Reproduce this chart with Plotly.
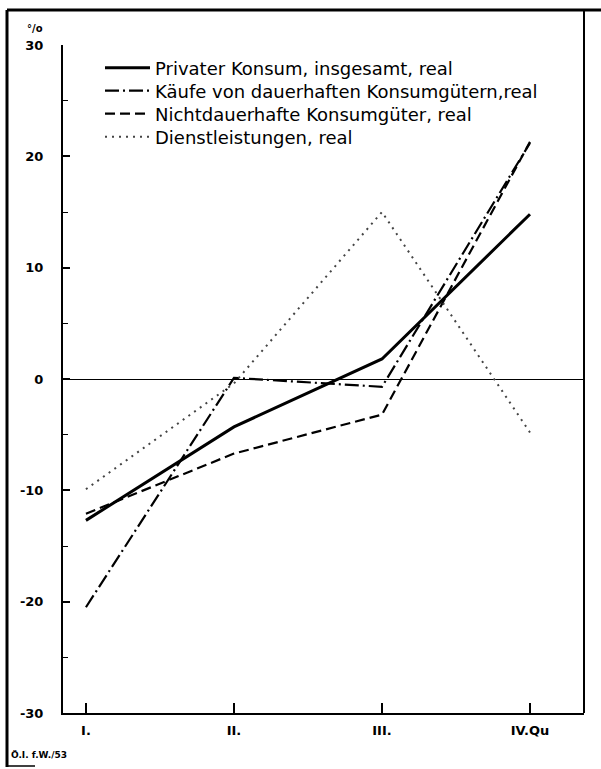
import plotly.graph_objects as go

quarters = ["I.", "II.", "III.", "IV.Qu"]
privater_konsum = [-12.7, -4.3, 1.8, 14.8]
dauerhafte = [-20.5, 0.1, -0.7, 21.2]
nichtdauerhafte = [-12.1, -6.7, -3.2, 21.3]
dienstleistungen = [-9.9, -0.4, 15.0, -4.8]

names = [
    "Privater Konsum, insgesamt, real",
    "Käufe von dauerhaften Konsumgütern,real",
    "Nichtdauerhafte Konsumgüter, real",
    "Dienstleistungen, real",
]
ytick_vals = [30, 20, 10, 0, -10, -20, -30]
ytick_text = ["30", "20", "10", "0", "-10", "-20", "-30"]

FONT = "DejaVu Sans"

W, H = 601, 769
L, R, T, B = 63, 584, 45, 713
pw, ph = R - L, B - T


def px(x):
    return (x - L) / pw


def py(y):
    return (B - y) / ph


series = [privater_konsum, dauerhafte, nichtdauerhafte, dienstleistungen]
styles = [
    dict(color="black", width=3),
    dict(color="black", width=2.2, dash="14px,4px,2px,4px"),
    dict(color="black", width=2.2, dash="10px,5px"),
    dict(color="#444", width=2, dash="2px,5px"),
]
legend_rows = [68, 91, 114, 137]

fig = go.Figure()
legends = {}
for i, (vals, st, nm) in enumerate(zip(series, styles, names)):
    lg = "legend" if i == 0 else f"legend{i + 1}"
    fig.add_trace(go.Scatter(x=quarters, y=vals, mode="lines", name=nm,
                             line=st, legend=lg))
    legends[lg] = dict(x=px(100), y=py(legend_rows[i]), xanchor="left", yanchor="middle",
                       bgcolor="rgba(0,0,0,0)", borderwidth=0,
                       font=dict(family=FONT, size=18, color="black"),
                       itemwidth=45)

fig.update_layout(
    width=W, height=H,
    margin=dict(l=L, r=W - R, t=T, b=H - B, pad=0),
    paper_bgcolor="white", plot_bgcolor="white",
    font=dict(family=FONT, color="black"),
    showlegend=True,
    xaxis=dict(type="category", categoryorder="array", categoryarray=quarters,
               range=[-0.155, 3.365], showgrid=False, zeroline=False,
               showline=True, linecolor="black", linewidth=2,
               ticks="inside", ticklen=10, tickwidth=2, tickcolor="black",
               tickfont=dict(family=FONT, size=13, color="black", weight="bold"),
               ticklabelstandoff=4),
    yaxis=dict(range=[-30, 30], showgrid=False,
               zeroline=True, zerolinecolor="black", zerolinewidth=1,
               showline=True, linecolor="black", linewidth=2,
               tickmode="array", tickvals=ytick_vals, ticktext=ytick_text,
               ticks="inside", ticklen=7, tickwidth=1.5, tickcolor="black",
               minor=dict(tickmode="linear", dtick=5, ticks="inside", ticklen=5,
                          tickwidth=1, tickcolor="black"),
               tickfont=dict(family=FONT, size=13, color="black", weight="bold"),
               ticklabelstandoff=15),
    shapes=[
        dict(type="line", xref="paper", yref="paper", x0=1, x1=1,
             y0=0, y1=py(10), line=dict(color="black", width=2)),
        dict(type="line", xref="paper", yref="paper", x0=px(7), x1=px(601),
             y0=py(10), y1=py(10), line=dict(color="black", width=3)),
        dict(type="line", xref="paper", yref="paper", x0=px(7), x1=px(7),
             y0=py(10), y1=py(767), line=dict(color="black", width=3)),
        dict(type="line", xref="paper", yref="paper", x0=px(7), x1=px(35),
             y0=py(766), y1=py(766), line=dict(color="black", width=1.5)),
    ],
    annotations=[
        dict(text="°/o", xref="paper", yref="paper", x=px(35), y=py(28),
             xanchor="center", yanchor="middle", showarrow=False,
             font=dict(family=FONT, size=10, color="black", weight="bold")),
        dict(text="Ö.I. f.W./53", xref="paper", yref="paper", x=px(9), y=py(755),
             xanchor="left", yanchor="middle", showarrow=False,
             font=dict(family=FONT, size=9, color="black", weight="bold")),
    ],
)
fig.update_layout(**legends)

fig.write_html("out.html",
               config={"displayModeBar": False},
               post_script="document.body.style.margin='0';document.body.style.overflow='hidden';")
